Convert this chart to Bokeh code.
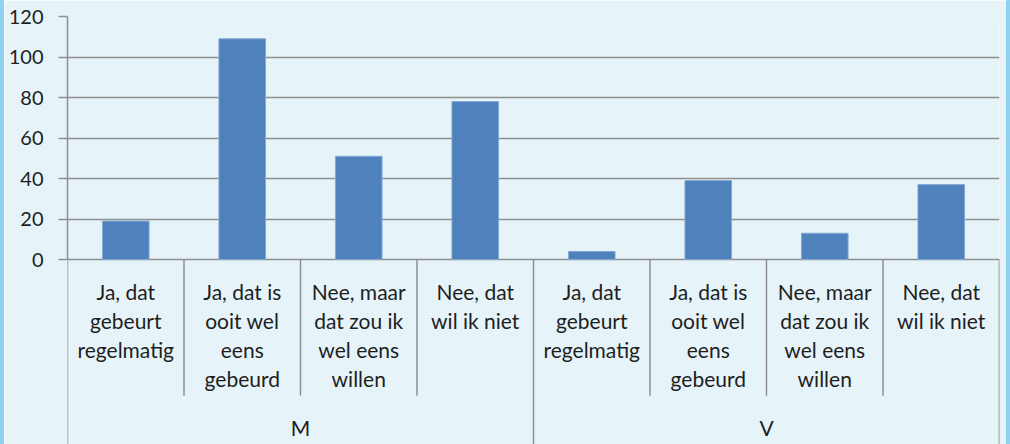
from bokeh.plotting import figure
from bokeh.models import FactorRange, Range1d, FixedTicker, ColumnDataSource, Spacer
from bokeh.layouts import row
from bokeh.core.properties import value
from bokeh.embed import file_html
from bokeh.resources import INLINE

groups = ["M", "V"]
categories = [
    "Ja, dat\ngebeurt\nregelmatig",
    "Ja, dat is\nooit wel\neens\ngebeurd",
    "Nee, maar\ndat zou ik\nwel eens\nwillen",
    "Nee, dat\nwil ik niet",
]
values_M = [19, 109, 51, 78]
values_V = [4, 39, 13, 37]
y_ticks = [0, 20, 40, 60, 80, 100, 120]

FONT = "Lato"
TEXT_COLOR = "#1e1e1e"
GRID_COLOR = "#8f8f8f"
BG = "#e6f4f9"
EDGE = "#8fd2ef"

factors = [(g, c) for g in groups for c in categories]
counts = values_M + values_V

EDGE_W = 4
W, H = 1010 - 2 * EDGE_W, 444
y_bottom = -91.3
p = figure(
    x_range=FactorRange(*factors, factor_padding=0, group_padding=0, range_padding=0),
    y_range=Range1d(y_bottom, 120),
    width=W, height=H,
    output_backend="svg", toolbar_location=None,
    x_axis_location=None,
    min_border_left=67 - EDGE_W, min_border_right=W - (999 - EDGE_W),
    min_border_top=16, min_border_bottom=0,
)
p.background_fill_color = BG
p.border_fill_color = BG
p.outline_line_color = None

ticker = FixedTicker(ticks=y_ticks)
p.yaxis.ticker = ticker
p.yaxis.bounds = (0, 120)
p.yaxis.axis_line_color = GRID_COLOR
p.yaxis.axis_line_width = 1.5
p.yaxis.major_tick_line_color = GRID_COLOR
p.yaxis.major_tick_line_width = 1.5
p.yaxis.major_tick_in = 0
p.yaxis.major_tick_out = 9
p.yaxis.minor_tick_line_color = None
p.yaxis.major_label_standoff = 15
p.yaxis.major_label_text_font = FONT
p.yaxis.major_label_text_font_size = "20px"
p.yaxis.major_label_text_color = TEXT_COLOR

p.ygrid.ticker = ticker
p.ygrid.grid_line_color = GRID_COLOR
p.ygrid.grid_line_width = 1.5
for g in p.xgrid:
    g.visible = False

src = ColumnDataSource(dict(x=factors, top=counts))
p.vbar(x="x", top="top", width=0.4, source=src,
       fill_color="#4f81bd", line_color="#86a8d4", line_width=1)

# category separators
n = len(factors)
per_group = len(categories)
outer_x = [min(i, n - 0.001) for i in range(n + 1) if i % per_group == 0]
inner_x = [i for i in range(n + 1) if i % per_group != 0]
p.segment(x0=outer_x, y0=[0] * len(outer_x), x1=outer_x, y1=[y_bottom] * len(outer_x),
          line_color=GRID_COLOR, line_width=1.5)
p.segment(x0=inner_x, y0=[0] * len(inner_x), x1=inner_x, y1=[-67.2] * len(inner_x),
          line_color=GRID_COLOR, line_width=1.5)

# category labels
p.text(x=factors, y=[-9.6] * n, text=[c for _, c in factors],
       text_font=value(FONT), text_font_size="21px", text_color=TEXT_COLOR,
       text_align="center", text_baseline="top", text_line_height=1.16)

# group labels
p.text(x=groups, y=[-82.7] * len(groups), text=groups,
       text_font=value(FONT), text_font_size="21px", text_color=TEXT_COLOR,
       text_align="center", text_baseline="middle")

left_edge = Spacer(width=EDGE_W, height=H, styles={"background-color": EDGE})
right_edge = Spacer(width=EDGE_W, height=H, styles={"background-color": EDGE})
layout = row(left_edge, p, right_edge, spacing=0)

open("out.html", "w").write(file_html(layout, INLINE))
